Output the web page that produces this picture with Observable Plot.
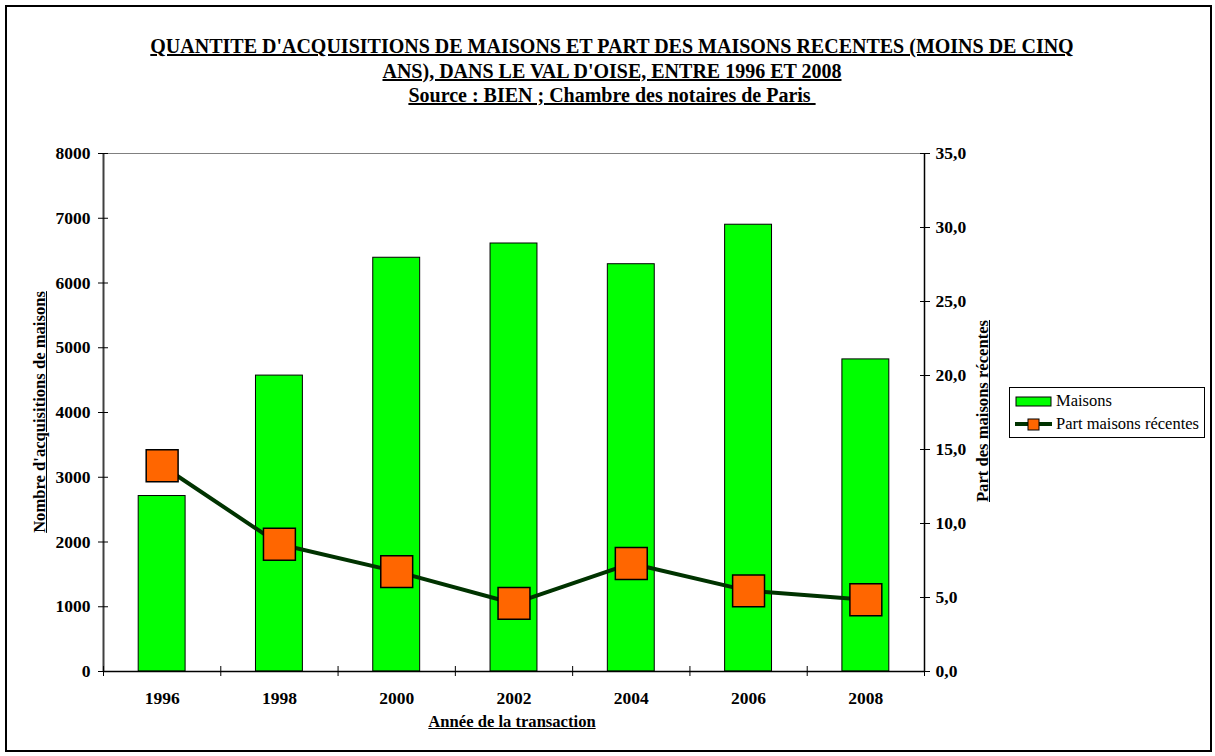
<!DOCTYPE html>
<html>
<head>
<meta charset="utf-8">
<script src="https://cdn.jsdelivr.net/npm/d3@7"></script>
<script src="https://cdn.jsdelivr.net/npm/@observablehq/plot@0.6"></script>
<style>
  body { margin: 0; background: #fff; }
  #wrap { position: relative; width: 1215px; height: 756px; background: #fff; font-family: "Liberation Serif", "Times New Roman", serif; color: #000; overflow: hidden; }
  #frame { position: absolute; left: 5px; top: 5px; width: 1207px; height: 747px; border: 2px solid #000; box-sizing: border-box; }
  #title { position: absolute; left: 12px; width: 1200px; top: 34px; text-align: center; font-weight: bold; font-size: 20px; line-height: 24.5px; text-decoration: underline; }
  .ytitle { position: absolute; white-space: nowrap; font-weight: bold; font-size: 16.6px; text-decoration: underline; transform: translate(-50%, -50%) rotate(-90deg); }
  #xtitle { position: absolute; white-space: nowrap; font-weight: bold; font-size: 16.6px; text-decoration: underline; transform: translate(-50%, -50%); left: 512px; top: 722px; }
  #chart { position: absolute; left: 0; top: 110px; }
  #legend { position: absolute; left: 1009px; top: 387px; width: 196px; height: 51px; border: 1px solid #000; box-sizing: border-box; font-size: 16.5px; }
  .lrow { position: absolute; left: 5px; height: 20px; display: flex; align-items: center; }
  .lrow svg { margin-right: 3px; }
</style>
</head>
<body>
<div id="wrap">
  <div id="frame"></div>
  <div id="title">QUANTITE D'ACQUISITIONS DE MAISONS ET PART DES MAISONS RECENTES (MOINS DE CINQ<br>ANS), DANS LE VAL D'OISE, ENTRE 1996 ET 2008<br>Source : BIEN ; Chambre des notaires de Paris&nbsp;</div>
  <div id="chart"></div>
  <div class="ytitle" style="left:40px; top:412px;">Nombre d'acquisitions de maisons</div>
  <div class="ytitle" style="left:983px; top:411px;">Part des maisons récentes</div>
  <div id="xtitle">Année de la transaction</div>
  <div id="legend">
    <div class="lrow" style="top:3px;">
      <svg width="38" height="12"><rect x="1" y="2" width="35" height="9" fill="#00ff00" stroke="#000" stroke-width="1"/></svg>
      <span>Maisons</span>
    </div>
    <div class="lrow" style="top:26px;">
      <svg width="38" height="14"><line x1="0" y1="7" x2="37" y2="7" stroke="#003300" stroke-width="4"/><rect x="13" y="2" width="11" height="11" fill="#ff6600" stroke="#000" stroke-width="1"/></svg>
      <span>Part maisons récentes</span>
    </div>
  </div>
</div>
<script>
// ---- Data ----
const years = [1996, 1998, 2000, 2002, 2004, 2006, 2008];
const maisons = [2710, 4570, 6390, 6610, 6290, 6900, 4820];
const partRecentes = [13.9, 8.6, 6.75, 4.6, 7.3, 5.45, 4.85];
const leftTicks = [0, 1000, 2000, 3000, 4000, 5000, 6000, 7000, 8000];
const rightTicks = [0, 5, 10, 15, 20, 25, 30, 35];
const leftMax = 8000;
const rightMax = 35;

const k = leftMax / rightMax; // map right-axis values onto left scale
const data = years.map((y, i) => ({year: y, maisons: maisons[i], part: partRecentes[i]}));
const xMin = years[0] - 1, xMax = years[years.length - 1] + 1;
const boundaries = [xMin, ...years.map(y => y + 1)];

const chart = Plot.plot({
  width: 1215,
  height: 646,
  marginTop: 43,
  marginBottom: 85,
  marginLeft: 103,
  marginRight: 291,
  x: {domain: [xMin, xMax]},
  y: {domain: [0, leftMax]},
  style: {fontFamily: "'Liberation Serif', 'Times New Roman', serif", fontSize: "17.5px", fontWeight: "bold", color: "#000", background: "transparent"},
  marks: [
    Plot.ruleY([leftMax], {stroke: "#808080", strokeWidth: 1}),
    Plot.rectY(data, {x1: d => d.year - 0.4, x2: d => d.year + 0.4, y: "maisons", fill: "#00ff00", stroke: "#000", strokeWidth: 1}),
    Plot.ruleY([0], {stroke: "#000", strokeWidth: 1.5}),
    Plot.ruleX([xMin], {stroke: "#404040", strokeWidth: 2}),
    Plot.ruleX([xMax], {stroke: "#000", strokeWidth: 1.5}),
    Plot.axisY(leftTicks, {anchor: "left", tickSize: 10, dx: 5, tickPadding: 8, tickFormat: d => String(d), label: null, strokeWidth: 1}),
    Plot.axisY(rightTicks.map(v => v * k), {anchor: "right", tickSize: 10, dx: -5, tickPadding: 6, tickFormat: d => (d / k).toFixed(1).replace(".", ","), label: null, strokeWidth: 1}),
    Plot.axisX(boundaries, {anchor: "bottom", tickSize: 10, dy: -5, tickFormat: () => "", label: null, strokeWidth: 1}),
    Plot.axisX(years, {anchor: "bottom", tickSize: 0, tickPadding: 20, tickFormat: d => String(d), label: null}),
    Plot.line(data, {x: "year", y: d => d.part * k, stroke: "#003300", strokeWidth: 4}),
    Plot.dot(data, {x: "year", y: d => d.part * k, symbol: "square", r: 18, fill: "#ff6600", stroke: "#000", strokeWidth: 1.5})
  ]
});
document.getElementById("chart").appendChild(chart);
</script>
</body>
</html>
